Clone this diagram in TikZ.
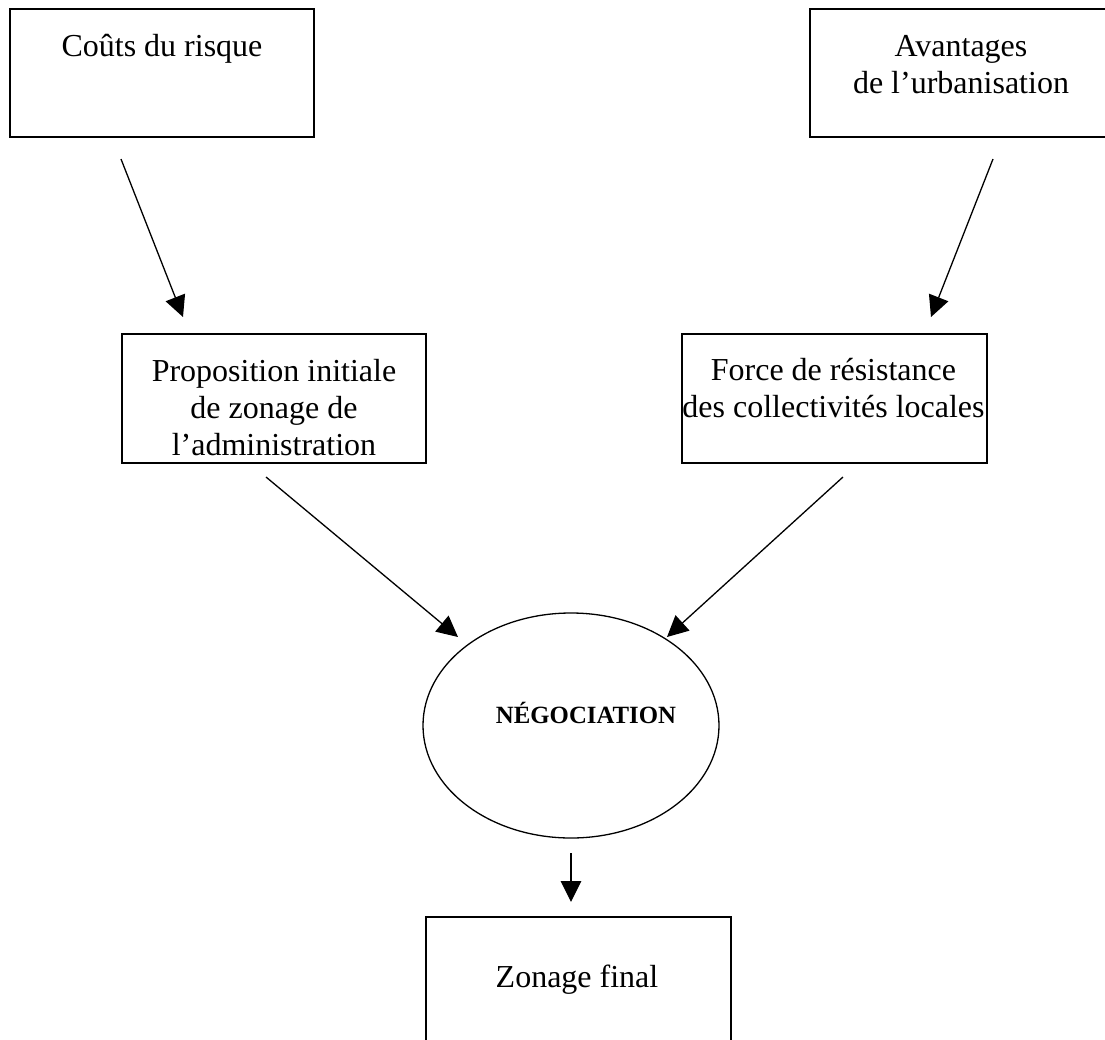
\documentclass[tikz,border=0pt]{standalone}
\usepackage{fontspec}
\setmainfont{Liberation Serif}
\usetikzlibrary{arrows.meta,shapes.geometric}

\begin{document}
\begin{tikzpicture}[x=0.5pt,y=0.5pt]
    \tikzset{
      every node/.append style={inner sep=0pt},
      box/.style={draw=black,line width=0.85pt,rectangle,minimum width=152pt,minimum height=64pt},
      txt/.style={align=center,font=\fontsize{16}{18.4}\selectfont},
      arr/.style={draw=black,line width=0.65pt,-{Triangle[length=10.5pt,width=10.3pt]}}
    }
    \useasboundingbox (0,0) rectangle (1105,-1040);
    % boxes
    \node[box] (couts) at (162,-73) {};
    \node[txt,anchor=base] (couts-t) at (162,-56) {Coûts du risque};
    \node[box] (avant) at (962,-73) {};
    \node[txt,anchor=north] (avant-t) at (961,-35) {Avantages\\de l’urbanisation};
    \node[box,minimum height=64.5pt] (prop) at (274,-398.5) {};
    \node[txt,anchor=north] (prop-t) at (274,-359) {Proposition initiale\\de zonage de\\l’administration};
    \node[box,minimum width=152.5pt,minimum height=64.5pt] (force) at (834.5,-398.5) {};
    \node[txt,anchor=north] (force-t) at (833.5,-358) {Force de résistance\\des collectivités locales};
    \node[draw=black,line width=0.65pt,ellipse,minimum width=148pt,minimum height=112.5pt] (nego) at (571,-725.5) {};
    \node[anchor=base,font=\fontsize{12.4}{14}\selectfont\bfseries] (nego-t) at (586,-723) {NÉGOCIATION};
    \node[box,minimum width=152.5pt] (final) at (578.5,-981) {};
    \node[txt,anchor=base] (final-t) at (577,-987) {Zonage final};
    % arrow ends
    \coordinate (a1s) at (121,-159);
    \coordinate (a1e) at (183,-317);
    \coordinate (a2s) at (993,-159);
    \coordinate (a2e) at (931,-317);
    \coordinate (a3s) at (266,-477);
    \coordinate (a3e) at (458,-637);
    \coordinate (a4s) at (843,-477);
    \coordinate (a4e) at (667,-637);
    \coordinate (a5s) at (571,-853);
    \coordinate (a5e) at (571,-902);
    \draw[arr] (a1s) -- (a1e);
    \draw[arr] (a2s) -- (a2e);
    \draw[arr] (a3s) -- (a3e);
    \draw[arr] (a4s) -- (a4e);
    \draw[arr] (a5s) -- (a5e);
\end{tikzpicture}
\end{document}
